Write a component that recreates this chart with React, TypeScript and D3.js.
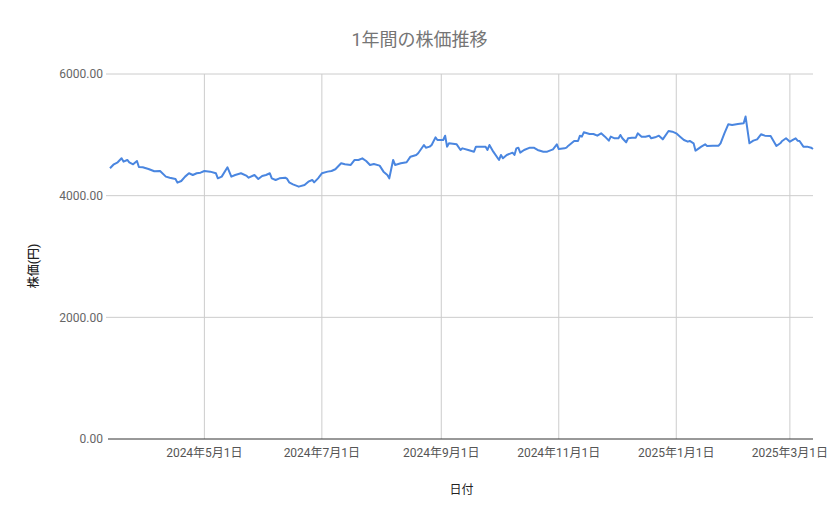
import React from "react";
import * as d3 from "d3";

const dates: string[] = [
  "2024-03-13","2024-03-15","2024-03-17","2024-03-19","2024-03-20","2024-03-22","2024-03-23","2024-03-25","2024-03-27","2024-03-28","2024-03-30",
  "2024-04-02","2024-04-05","2024-04-08","2024-04-11","2024-04-13","2024-04-16","2024-04-17","2024-04-19","2024-04-21","2024-04-23","2024-04-25","2024-04-27","2024-04-29",
  "2024-05-01","2024-05-04","2024-05-07","2024-05-08","2024-05-10","2024-05-13","2024-05-15","2024-05-17","2024-05-20","2024-05-23","2024-05-24","2024-05-27","2024-05-29","2024-05-31",
  "2024-06-02","2024-06-04","2024-06-05","2024-06-07","2024-06-09","2024-06-12","2024-06-13","2024-06-14","2024-06-16","2024-06-19","2024-06-22","2024-06-24","2024-06-26","2024-06-27","2024-06-29",
  "2024-07-01","2024-07-04","2024-07-06","2024-07-08","2024-07-11","2024-07-13","2024-07-16","2024-07-18","2024-07-20","2024-07-22","2024-07-24","2024-07-26","2024-07-28","2024-07-31",
  "2024-08-02","2024-08-04","2024-08-05","2024-08-07","2024-08-08","2024-08-11","2024-08-14","2024-08-16","2024-08-19","2024-08-20","2024-08-23","2024-08-24","2024-08-26","2024-08-27","2024-08-29","2024-08-30",
  "2024-09-02","2024-09-03","2024-09-04","2024-09-05","2024-09-09","2024-09-11","2024-09-12","2024-09-15","2024-09-18","2024-09-19","2024-09-22","2024-09-24","2024-09-25","2024-09-26","2024-09-28",
  "2024-10-01","2024-10-02","2024-10-03","2024-10-05","2024-10-08","2024-10-09","2024-10-10","2024-10-11","2024-10-12","2024-10-14","2024-10-17","2024-10-19","2024-10-21","2024-10-24","2024-10-26","2024-10-29","2024-10-31",
  "2024-11-01","2024-11-04","2024-11-05","2024-11-06","2024-11-09","2024-11-11","2024-11-12","2024-11-13","2024-11-14","2024-11-17","2024-11-19","2024-11-21","2024-11-23","2024-11-25","2024-11-27","2024-11-28","2024-11-30",
  "2024-12-02","2024-12-03","2024-12-04","2024-12-06","2024-12-07","2024-12-09","2024-12-11","2024-12-12","2024-12-14","2024-12-16","2024-12-18","2024-12-19","2024-12-21","2024-12-23","2024-12-25","2024-12-28","2024-12-30",
  "2025-01-01","2025-01-03","2025-01-05","2025-01-07","2025-01-08","2025-01-10","2025-01-11","2025-01-12","2025-01-14","2025-01-16","2025-01-17","2025-01-20","2025-01-23","2025-01-24","2025-01-26","2025-01-28","2025-01-30",
  "2025-02-02","2025-02-05","2025-02-06","2025-02-08","2025-02-10","2025-02-12","2025-02-14","2025-02-16","2025-02-19","2025-02-22","2025-02-24","2025-02-25","2025-02-27",
  "2025-03-01","2025-03-03","2025-03-04","2025-03-05","2025-03-06","2025-03-08","2025-03-10","2025-03-12","2025-03-13",
];

const prices: number[] = [
  4450,4516,4549,4614,4560,4587,4549,4516,4570,4472,4467,
  4439,4401,4406,4313,4296,4275,4214,4241,4313,4368,4340,4368,4378,
  4406,4395,4368,4285,4313,4467,4313,4340,4368,4324,4296,4340,4275,4324,
  4340,4368,4285,4258,4285,4296,4275,4219,4186,4148,4175,4230,4258,4219,4285,
  4368,4395,4406,4434,4532,4516,4505,4587,4587,4614,4570,4505,4521,4494,
  4395,4340,4285,4587,4505,4532,4549,4641,4669,4697,4833,4789,4806,4833,4959,4915,
  4915,4986,4806,4861,4844,4751,4778,4751,4723,4806,4806,4806,4751,4833,4723,
  4587,4669,4614,4669,4707,4669,4778,4789,4707,4751,4789,4789,4751,4723,4723,4762,4844,
  4767,4778,4789,4822,4899,4899,4986,4970,5042,5014,5014,4986,5025,4970,4904,4970,4943,
  4943,4998,4943,4877,4943,4953,4953,5025,4970,4970,4986,4943,4959,4986,4926,5063,5052,
  5025,4970,4915,4888,4899,4861,4740,4762,4806,4844,4817,4822,4822,4861,5025,5173,5162,
  5179,5190,5300,4861,4904,4926,5009,4986,4981,4817,4861,4899,4943,
  4888,4926,4943,4904,4899,4806,4806,4789,4767,
];

const yTicks: number[] = [0, 2000, 4000, 6000];
const xTickDates: string[] = ["2024-05-01", "2024-07-01", "2024-09-01", "2024-11-01", "2025-01-01", "2025-03-01"];
const xTickLabels: string[] = ["2024年5月1日", "2024年7月1日", "2024年9月1日", "2024年11月1日", "2025年1月1日", "2025年3月1日"];

const title = "1年間の株価推移";
const xTitle = "日付";
const yTitle = "株価(円)";

const W = 839;
const H = 519;
const left = 110;
const right = 813;
const top = 74;
const bottom = 439;

const FONT = "Roboto, 'Noto Sans CJK JP', sans-serif";

export default function App() {
  const parse = d3.utcParse("%Y-%m-%d");
  const data = dates.map((d, i) => ({ date: parse(d) as Date, value: prices[i] }));
  const x = d3
    .scaleUtc()
    .domain(d3.extent(data, (d) => d.date) as [Date, Date])
    .range([left, right]);
  const y = d3.scaleLinear().domain([0, 6000]).range([bottom, top]);
  const line = d3
    .line<{ date: Date; value: number }>()
    .x((d) => x(d.date))
    .y((d) => y(d.value));
  const fmt = d3.format(".2f");

  return (
    <svg
      width={W}
      height={H}
      style={{ position: "absolute", left: 0, top: 0, background: "#fff" }}
      fontFamily={FONT}
    >
      <rect x={0} y={0} width={W} height={H} fill="#fff" />
      <text x={W / 2} y={46} textAnchor="middle" fontSize={18} fill="#757575">
        {title}
      </text>
      {yTicks
        .filter((t) => t !== 0)
        .map((t) => (
          <line key={"gy" + t} x1={106} x2={right} y1={y(t)} y2={y(t)} stroke="#cccccc" strokeWidth={1} />
        ))}
      {xTickDates.map((d, i) => {
        const xx = x(parse(d) as Date);
        return (
          <line key={"gx" + i} x1={xx} x2={xx} y1={top} y2={bottom} stroke="#cccccc" strokeWidth={1} />
        );
      })}
      {yTicks.map((t) => (
        <text key={"ly" + t} x={103} y={y(t)} dy="0.35em" textAnchor="end" fontSize={12} fill="#666666">
          {fmt(t)}
        </text>
      ))}
      {xTickDates.map((d, i) => (
        <text
          key={"lx" + i}
          x={x(parse(d) as Date)}
          y={457}
          textAnchor="middle"
          fontSize={12}
          fill="#555555"
        >
          {xTickLabels[i]}
        </text>
      ))}
      <path d={line(data) || ""} fill="none" stroke="#4a86e0" strokeWidth={2} strokeLinejoin="round" />
      <line x1={108} x2={right} y1={y(0)} y2={y(0)} stroke="#333333" strokeWidth={1} />
      <text x={(left + right) / 2} y={494} textAnchor="middle" fontSize={12} fill="#222222">
        {xTitle}
      </text>
      <text
        transform={`translate(38, 266) rotate(-90)`}
        textAnchor="middle"
        fontSize={12}
        fontWeight={500}
        fill="#222222"
      >
        {yTitle}
      </text>
    </svg>
  );
}
